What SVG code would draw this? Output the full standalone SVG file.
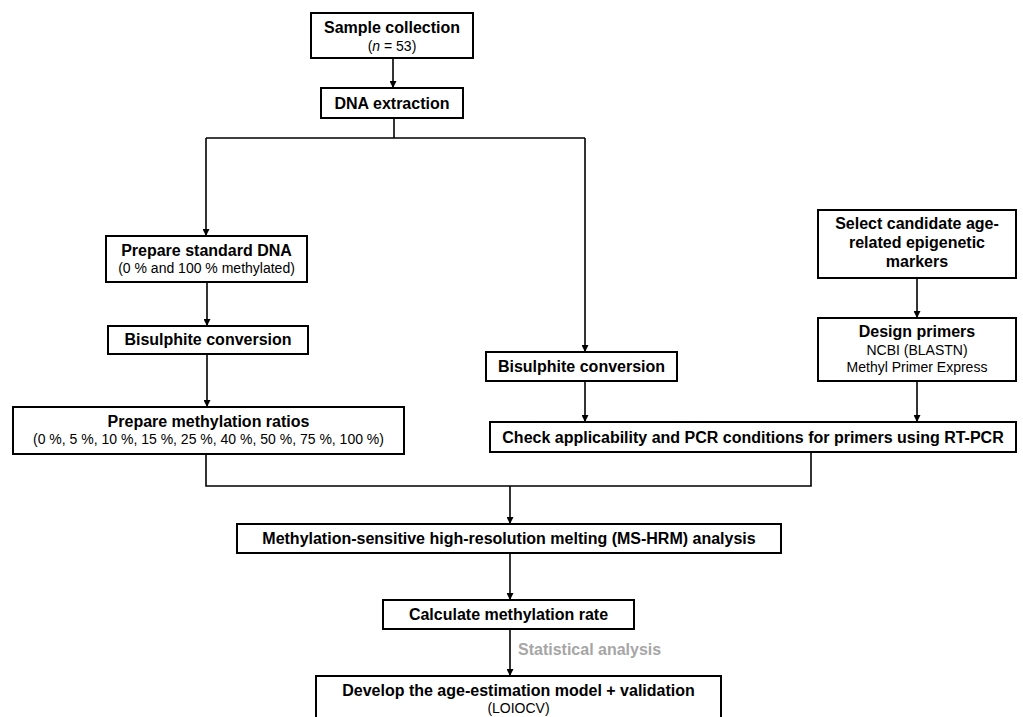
<svg xmlns="http://www.w3.org/2000/svg" width="1023" height="717" viewBox="0 0 1023 717">
<style>
.box{fill:#fff;stroke:#000;stroke-width:2}
.t{font-family:"Liberation Sans",Arial,sans-serif;font-size:16px;font-weight:bold;text-anchor:middle;fill:#000}
.s{font-family:"Liberation Sans",Arial,sans-serif;font-size:14px;text-anchor:middle;fill:#000}
.c{fill:none;stroke:#000;stroke-width:1.6}
.lbl{font-family:"Liberation Sans",Arial,sans-serif;font-size:16px;font-weight:bold;fill:#a6a6a6}
</style>
<defs>
<marker id="ah" viewBox="0 0 10 10" refX="10" refY="5" markerWidth="7" markerHeight="7" markerUnits="userSpaceOnUse" orient="auto">
<path d="M0,0 L10,5 L0,10 z" fill="#000"/>
</marker>
</defs>
<rect width="1023" height="717" fill="#fff"/>
<g id="connectors">
<line class="c" x1="393" y1="58" x2="393" y2="88" marker-end="url(#ah)"/>
<polyline class="c" points="394,118 394,138"/>
<polyline class="c" points="206,138 585,138"/>
<polyline class="c" points="206,138 206,236" marker-end="url(#ah)"/>
<polyline class="c" points="585,138 585,352" marker-end="url(#ah)"/>
<line class="c" x1="207" y1="282" x2="207" y2="326" marker-end="url(#ah)"/>
<line class="c" x1="207" y1="354" x2="207" y2="407" marker-end="url(#ah)"/>
<line class="c" x1="917" y1="278" x2="917" y2="318" marker-end="url(#ah)"/>
<line class="c" x1="585" y1="381" x2="585" y2="422" marker-end="url(#ah)"/>
<line class="c" x1="917" y1="381" x2="917" y2="422" marker-end="url(#ah)"/>
<polyline class="c" points="206,454 206,486 811,486 811,452"/>
<line class="c" x1="510" y1="486" x2="510" y2="524" marker-end="url(#ah)"/>
<line class="c" x1="510" y1="553" x2="510" y2="600" marker-end="url(#ah)"/>
<line class="c" x1="510" y1="629" x2="510" y2="676" marker-end="url(#ah)"/>
<text class="lbl" x="518" y="655">Statistical analysis</text>
</g>
<g id="sample">
<rect class="box" x="311" y="13" width="162" height="45"/>
<text class="t" x="392" y="33">Sample collection</text>
<text class="s" x="392" y="51">(<tspan font-style="italic">n</tspan> = 53)</text>
</g>
<g id="dna">
<rect class="box" x="321" y="88" width="142" height="30"/>
<text class="t" x="392" y="109">DNA extraction</text>
</g>
<g id="standard">
<rect class="box" x="106" y="236" width="201" height="46"/>
<text class="t" x="206.5" y="256">Prepare standard DNA</text>
<text class="s" x="206.5" y="273">(0 % and 100 % methylated)</text>
</g>
<g id="bisulphite-left">
<rect class="box" x="108" y="326" width="200" height="28"/>
<text class="t" x="208" y="345">Bisulphite conversion</text>
</g>
<g id="ratios">
<rect class="box" x="13" y="407" width="391" height="47"/>
<text class="t" x="208.5" y="427">Prepare methylation ratios</text>
<text class="s" x="208.5" y="444">(0 %, 5 %, 10 %, 15 %, 25 %, 40 %, 50 %, 75 %, 100 %)</text>
</g>
<g id="select">
<rect class="box" x="818" y="210" width="198" height="68"/>
<text class="t" x="917" y="229">Select candidate age-</text>
<text class="t" x="917" y="248">related epigenetic</text>
<text class="t" x="917" y="267">markers</text>
</g>
<g id="design">
<rect class="box" x="818" y="318" width="198" height="63"/>
<text class="t" x="917" y="337">Design primers</text>
<text class="s" x="917" y="355">NCBI (BLASTN)</text>
<text class="s" x="917" y="372">Methyl Primer Express</text>
</g>
<g id="bisulphite-right">
<rect class="box" x="486" y="352" width="191" height="29"/>
<text class="t" x="581.5" y="372">Bisulphite conversion</text>
</g>
<g id="check">
<rect class="box" x="490" y="422" width="526" height="30"/>
<text class="t" x="753" y="443">Check applicability and PCR conditions for primers using RT-PCR</text>
</g>
<g id="mshrm">
<rect class="box" x="237" y="524" width="544" height="29"/>
<text class="t" x="509" y="544">Methylation-sensitive high-resolution melting (MS-HRM) analysis</text>
</g>
<g id="calculate">
<rect class="box" x="383" y="600" width="251" height="29"/>
<text class="t" x="508.5" y="620">Calculate methylation rate</text>
</g>
<g id="develop">
<rect class="box" x="316" y="676" width="405" height="60"/>
<text class="t" x="518.5" y="696">Develop the age-estimation model + validation</text>
<text class="s" x="518.5" y="713">(LOIOCV)</text>
</g>
</svg>
